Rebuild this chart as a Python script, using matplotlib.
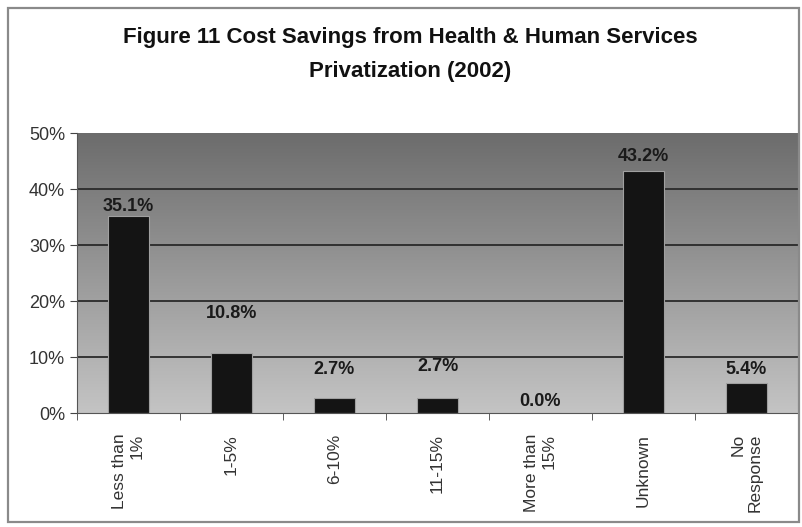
import numpy as np
import matplotlib
matplotlib.use("Agg")
import matplotlib.pyplot as plt
from matplotlib.patches import Rectangle
from matplotlib.ticker import PercentFormatter

plt.rcParams["font.family"] = ["Liberation Sans", "DejaVu Sans"]

# ── Data ─────────────────────────────────────────────────────────────────────
categories = ["Less than\n1%", "1-5%", "6-10%", "11-15%",
              "More than\n15%", "Unknown", "No\nResponse"]
savings_pct = [35.1, 10.8, 2.7, 2.7, 0.0, 43.2, 5.4]

# label offsets above each bar (pixels) — mimics the Excel placement
label_offsets = [10, 39, 28, 31, 11, 15, 13]

# ── Figure ───────────────────────────────────────────────────────────────────
W, H = 802, 527
fig = plt.figure(figsize=(W / 100, H / 100), dpi=100)
ax = fig.add_axes([77 / W, 1 - 413 / H, 721 / W, 280 / H])

# outer chart border
fig.patches.append(Rectangle((8 / W, 5 / H), 791 / W, 514 / H,
                             transform=fig.transFigure, fill=False,
                             edgecolor="#8a8a8a", linewidth=1.6))

fig.text(0.512, 1 - 38 / H, "Figure 11 Cost Savings from Health & Human Services",
         ha="center", va="center", fontsize=16, fontweight="bold", color="#111111")
fig.text(0.512, 1 - 71 / H, "Privatization (2002)",
         ha="center", va="center", fontsize=16, fontweight="bold", color="#111111")

x = np.arange(len(categories))
ax.set_xlim(-0.5, len(categories) - 0.5)
ax.set_ylim(0, 50)

# gradient background: dark at top, light at bottom
grad = np.linspace(0, 1, 256).reshape(-1, 1)
ax.imshow(grad, cmap=plt.matplotlib.colors.LinearSegmentedColormap.from_list(
    "bg", ["#c4c4c4", "#6c6c6c"]), aspect="auto", origin="lower",
    extent=(-0.5, len(categories) - 0.5, 0, 50), zorder=0)

for yv in [10, 20, 30, 40]:
    ax.axhline(yv, color="#2a2a2a", linewidth=1.3, zorder=1)

ax.bar(x, savings_pct, width=0.4, color="#141414",
       edgecolor="#a0a0a0", linewidth=0.8, zorder=2)

for xi, v, off in zip(x, savings_pct, label_offsets):
    ax.annotate(f"{v:.1f}%", xy=(xi, v), xytext=(0, off),
                textcoords="offset pixels", ha="center", va="center",
                fontsize=13, fontweight="bold", color="#1a1a1a", zorder=3)

ax.set_yticks(range(0, 51, 10))
ax.yaxis.set_major_formatter(PercentFormatter(decimals=0))
ax.tick_params(axis="y", labelsize=13, labelcolor="#333333", length=5,
               color="#444444", direction="out")

ax.set_xticks(x)
ax.set_xticklabels(categories, rotation=90, fontsize=12.5, color="#333333",
                   va="top", ha="center", multialignment="right")
ax.tick_params(axis="x", length=0, pad=15)
ax.set_xticks(np.arange(-0.5, len(categories)), minor=True)
ax.tick_params(axis="x", which="minor", length=5, color="#444444")

for s in ["top", "right"]:
    ax.spines[s].set_visible(False)
ax.spines["left"].set_color("#555555")
ax.spines["bottom"].set_color("#555555")

fig.savefig("out.png", dpi=100)
